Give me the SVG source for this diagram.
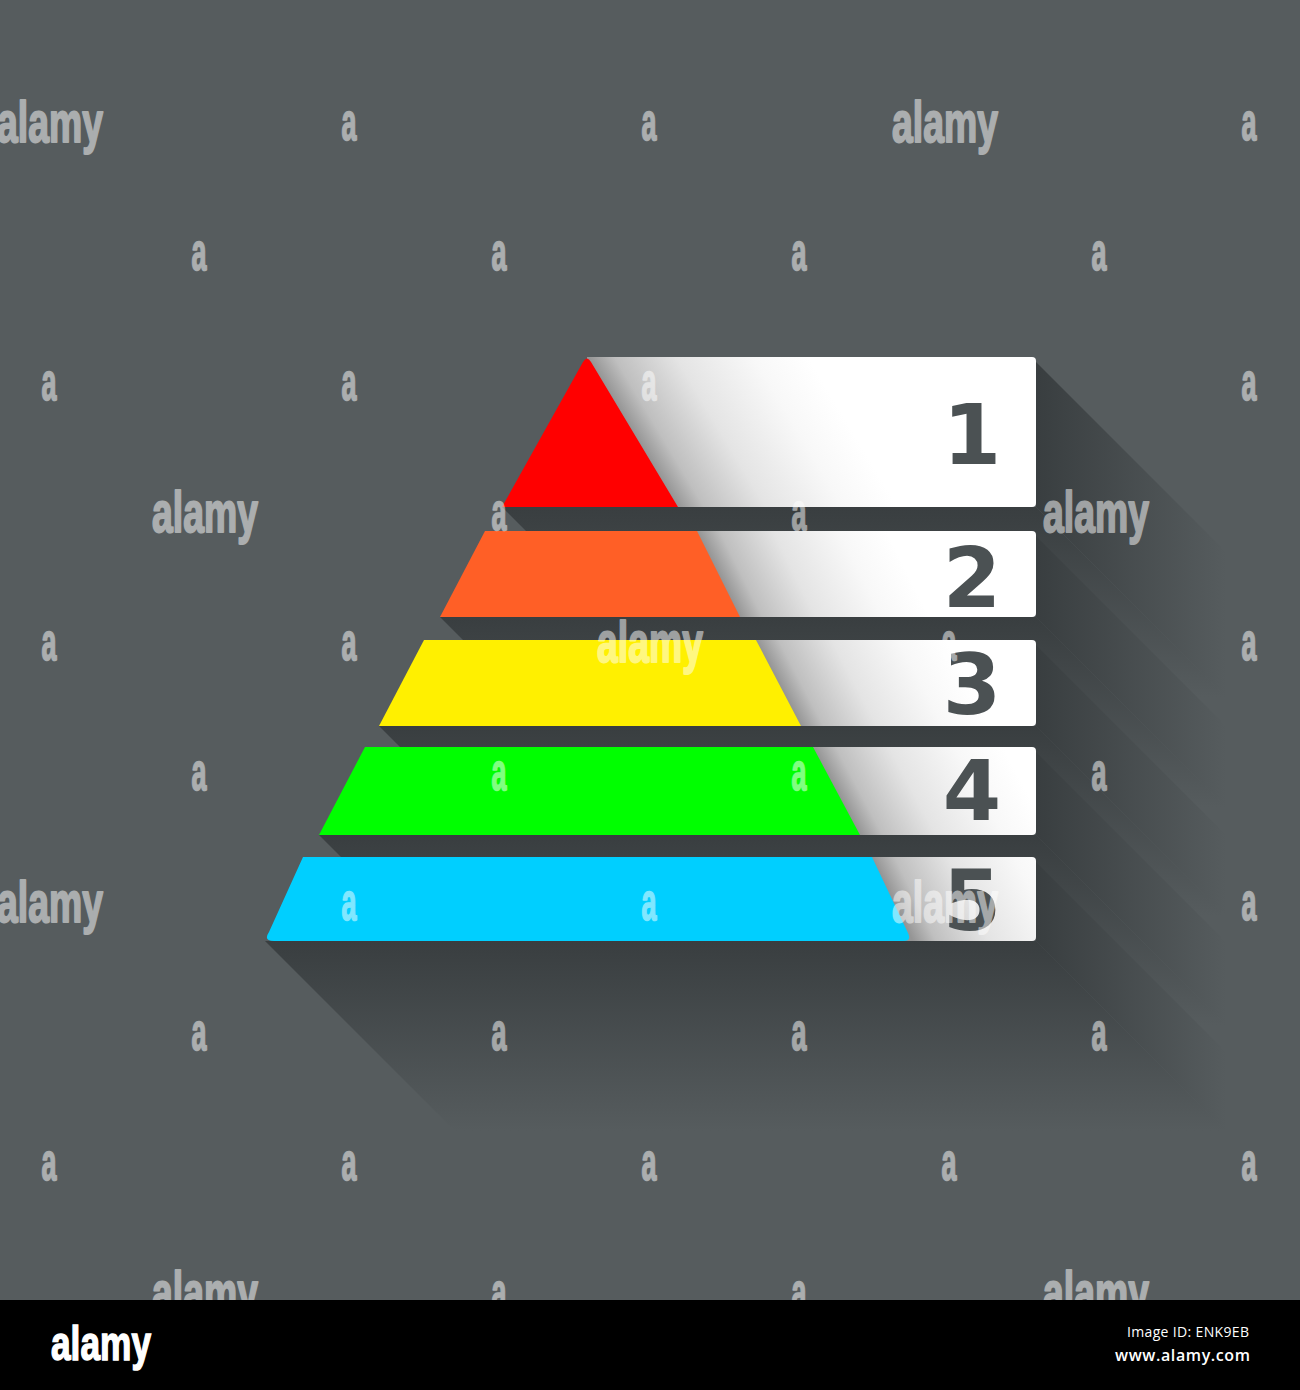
<svg xmlns="http://www.w3.org/2000/svg" width="1300" height="1390" viewBox="0 0 1300 1390">
<defs>
<style>
.num{font-family:"DejaVu Sans","Liberation Sans",sans-serif;font-weight:bold;font-size:84px;fill:#4b5153;text-anchor:middle}
.wm{font-family:"Liberation Sans",Arial,sans-serif;font-weight:bold;fill:#ffffff;stroke:#ffffff;stroke-linejoin:round}
.wa{font-size:51px;text-anchor:middle;stroke-width:1.6px}
.wl{font-size:58px;stroke-width:2px}
.foot{font-family:"Open Sans","DejaVu Sans",sans-serif;fill:#ffffff;text-anchor:end}
</style>
<linearGradient id="sr" gradientUnits="userSpaceOnUse" x1="1036" y1="0" x2="1226" y2="0"><stop offset="0" stop-color="#393e40"/><stop offset="1" stop-color="#565c5e"/></linearGradient>
<linearGradient id="sb1" gradientUnits="userSpaceOnUse" x1="0" y1="507" x2="0" y2="697"><stop offset="0" stop-color="#393e40"/><stop offset="1" stop-color="#565c5e"/></linearGradient>
<linearGradient id="sb2" gradientUnits="userSpaceOnUse" x1="0" y1="617" x2="0" y2="807"><stop offset="0" stop-color="#393e40"/><stop offset="1" stop-color="#565c5e"/></linearGradient>
<linearGradient id="sb3" gradientUnits="userSpaceOnUse" x1="0" y1="726" x2="0" y2="916"><stop offset="0" stop-color="#393e40"/><stop offset="1" stop-color="#565c5e"/></linearGradient>
<linearGradient id="sb4" gradientUnits="userSpaceOnUse" x1="0" y1="835" x2="0" y2="1025"><stop offset="0" stop-color="#393e40"/><stop offset="1" stop-color="#565c5e"/></linearGradient>
<linearGradient id="sb5" gradientUnits="userSpaceOnUse" x1="0" y1="941" x2="0" y2="1131"><stop offset="0" stop-color="#393e40"/><stop offset="1" stop-color="#565c5e"/></linearGradient>
<linearGradient id="cg1" gradientUnits="userSpaceOnUse" x1="373.8" y1="0" x2="593.8" y2="0" gradientTransform="skewX(30.96)"><stop offset="0" stop-color="#959595"/><stop offset="0.12" stop-color="#bfbfbf"/><stop offset="0.4" stop-color="#e4e4e4"/><stop offset="0.75" stop-color="#f8f8f8"/><stop offset="1" stop-color="#ffffff"/></linearGradient>
<linearGradient id="cg2" gradientUnits="userSpaceOnUse" x1="431.5" y1="0" x2="621.5" y2="0" gradientTransform="skewX(26.57)"><stop offset="0" stop-color="#959595"/><stop offset="0.12" stop-color="#bfbfbf"/><stop offset="0.4" stop-color="#e4e4e4"/><stop offset="0.75" stop-color="#f8f8f8"/><stop offset="1" stop-color="#ffffff"/></linearGradient>
<linearGradient id="cg3" gradientUnits="userSpaceOnUse" x1="421.1" y1="0" x2="611.1" y2="0" gradientTransform="skewX(27.62)"><stop offset="0" stop-color="#959595"/><stop offset="0.12" stop-color="#bfbfbf"/><stop offset="0.4" stop-color="#e4e4e4"/><stop offset="0.75" stop-color="#f8f8f8"/><stop offset="1" stop-color="#ffffff"/></linearGradient>
<linearGradient id="cg4" gradientUnits="userSpaceOnUse" x1="414.1" y1="0" x2="604.1" y2="0" gradientTransform="skewX(28.11)"><stop offset="0" stop-color="#959595"/><stop offset="0.12" stop-color="#bfbfbf"/><stop offset="0.4" stop-color="#e4e4e4"/><stop offset="0.75" stop-color="#f8f8f8"/><stop offset="1" stop-color="#ffffff"/></linearGradient>
<linearGradient id="cg5" gradientUnits="userSpaceOnUse" x1="453.7" y1="0" x2="643.7" y2="0" gradientTransform="skewX(26.02)"><stop offset="0" stop-color="#959595"/><stop offset="0.12" stop-color="#bfbfbf"/><stop offset="0.4" stop-color="#e4e4e4"/><stop offset="0.75" stop-color="#f8f8f8"/><stop offset="1" stop-color="#ffffff"/></linearGradient>
</defs>
<rect x="0" y="0" width="1300" height="1390" fill="#565c5e"/>
<g id="shadows">
<polygon points="502,507 1036,507 1226,697 692,697" fill="url(#sb1)"/>
<polygon points="1036,362 1226,552 1226,697 1036,507" fill="url(#sr)"/>
<polygon points="440,617 1036,617 1226,807 630,807" fill="url(#sb2)"/>
<polygon points="1036,536 1226,726 1226,807 1036,617" fill="url(#sr)"/>
<polygon points="379,726 1036,726 1226,916 569,916" fill="url(#sb3)"/>
<polygon points="1036,645 1226,835 1226,916 1036,726" fill="url(#sr)"/>
<polygon points="319,835 1036,835 1226,1025 509,1025" fill="url(#sb4)"/>
<polygon points="1036,752 1226,942 1226,1025 1036,835" fill="url(#sr)"/>
<polygon points="265,941 1036,941 1226,1131 455,1131" fill="url(#sb5)"/>
<polygon points="1036,862 1226,1052 1226,1131 1036,941" fill="url(#sr)"/>
</g>
<g id="tier1">
<path d="M587,357 H1032 Q1036,357 1036,361 V503 Q1036,507 1032,507 H587 Z" fill="url(#cg1)"/>
<path d="M502,507 L583,362 Q587,355 591,362 L678,507 Z" fill="#ff0000"/>
<text class="num" x="972" y="464">1</text>
</g>
<g id="tier2">
<path d="M697,531 H1032 Q1036,531 1036,535 V613 Q1036,617 1032,617 H697 Z" fill="url(#cg2)"/>
<polygon points="485,531 697,531 740,617 440,617" fill="#ff5f26"/>
<text class="num" x="972" y="607">2</text>
</g>
<g id="tier3">
<path d="M756,640 H1032 Q1036,640 1036,644 V722 Q1036,726 1032,726 H756 Z" fill="url(#cg3)"/>
<polygon points="424,640 756,640 801,726 379,726" fill="#fff000"/>
<text class="num" x="972" y="714">3</text>
</g>
<g id="tier4">
<path d="M813,747 H1032 Q1036,747 1036,751 V831 Q1036,835 1032,835 H813 Z" fill="url(#cg4)"/>
<polygon points="365,747 813,747 860,835 319,835" fill="#00ff00"/>
<text class="num" x="972" y="820">4</text>
</g>
<g id="tier5">
<path d="M872,857 H1032 Q1036,857 1036,861 V937 Q1036,941 1032,941 H872 Z" fill="url(#cg5)"/>
<path d="M303,857 H872 L908,933 Q912,941 903,941 H274 Q263,941 269,932 Z" fill="#00cfff"/>
<text class="num" x="972" y="930">5</text>
</g>
<g id="watermarks" class="wm" opacity="0.5">
<text class="wl" x="-3" y="142" textLength="106" lengthAdjust="spacingAndGlyphs">alamy</text>
<text class="wl" x="892" y="142" textLength="106" lengthAdjust="spacingAndGlyphs">alamy</text>
<text class="wa" x="349" y="140" textLength="15" lengthAdjust="spacingAndGlyphs">a</text>
<text class="wa" x="649" y="140" textLength="15" lengthAdjust="spacingAndGlyphs">a</text>
<text class="wa" x="1249" y="140" textLength="15" lengthAdjust="spacingAndGlyphs">a</text>
<text class="wa" x="199" y="270" textLength="15" lengthAdjust="spacingAndGlyphs">a</text>
<text class="wa" x="499" y="270" textLength="15" lengthAdjust="spacingAndGlyphs">a</text>
<text class="wa" x="799" y="270" textLength="15" lengthAdjust="spacingAndGlyphs">a</text>
<text class="wa" x="1099" y="270" textLength="15" lengthAdjust="spacingAndGlyphs">a</text>
<text class="wa" x="49" y="400" textLength="15" lengthAdjust="spacingAndGlyphs">a</text>
<text class="wa" x="349" y="400" textLength="15" lengthAdjust="spacingAndGlyphs">a</text>
<text class="wa" x="649" y="400" textLength="15" lengthAdjust="spacingAndGlyphs">a</text>
<text class="wa" x="949" y="400" textLength="15" lengthAdjust="spacingAndGlyphs">a</text>
<text class="wa" x="1249" y="400" textLength="15" lengthAdjust="spacingAndGlyphs">a</text>
<text class="wl" x="152" y="532" textLength="106" lengthAdjust="spacingAndGlyphs">alamy</text>
<text class="wl" x="1043" y="532" textLength="106" lengthAdjust="spacingAndGlyphs">alamy</text>
<text class="wa" x="499" y="530" textLength="15" lengthAdjust="spacingAndGlyphs">a</text>
<text class="wa" x="799" y="530" textLength="15" lengthAdjust="spacingAndGlyphs">a</text>
<text class="wa" x="49" y="660" textLength="15" lengthAdjust="spacingAndGlyphs">a</text>
<text class="wa" x="349" y="660" textLength="15" lengthAdjust="spacingAndGlyphs">a</text>
<text class="wl" x="597" y="662" textLength="106" lengthAdjust="spacingAndGlyphs">alamy</text>
<text class="wa" x="949" y="660" textLength="15" lengthAdjust="spacingAndGlyphs">a</text>
<text class="wa" x="1249" y="660" textLength="15" lengthAdjust="spacingAndGlyphs">a</text>
<text class="wa" x="199" y="790" textLength="15" lengthAdjust="spacingAndGlyphs">a</text>
<text class="wa" x="499" y="790" textLength="15" lengthAdjust="spacingAndGlyphs">a</text>
<text class="wa" x="799" y="790" textLength="15" lengthAdjust="spacingAndGlyphs">a</text>
<text class="wa" x="1099" y="790" textLength="15" lengthAdjust="spacingAndGlyphs">a</text>
<text class="wl" x="-3" y="922" textLength="106" lengthAdjust="spacingAndGlyphs">alamy</text>
<text class="wl" x="892" y="922" textLength="106" lengthAdjust="spacingAndGlyphs">alamy</text>
<text class="wa" x="349" y="920" textLength="15" lengthAdjust="spacingAndGlyphs">a</text>
<text class="wa" x="649" y="920" textLength="15" lengthAdjust="spacingAndGlyphs">a</text>
<text class="wa" x="1249" y="920" textLength="15" lengthAdjust="spacingAndGlyphs">a</text>
<text class="wa" x="199" y="1050" textLength="15" lengthAdjust="spacingAndGlyphs">a</text>
<text class="wa" x="499" y="1050" textLength="15" lengthAdjust="spacingAndGlyphs">a</text>
<text class="wa" x="799" y="1050" textLength="15" lengthAdjust="spacingAndGlyphs">a</text>
<text class="wa" x="1099" y="1050" textLength="15" lengthAdjust="spacingAndGlyphs">a</text>
<text class="wa" x="49" y="1180" textLength="15" lengthAdjust="spacingAndGlyphs">a</text>
<text class="wa" x="349" y="1180" textLength="15" lengthAdjust="spacingAndGlyphs">a</text>
<text class="wa" x="649" y="1180" textLength="15" lengthAdjust="spacingAndGlyphs">a</text>
<text class="wa" x="949" y="1180" textLength="15" lengthAdjust="spacingAndGlyphs">a</text>
<text class="wa" x="1249" y="1180" textLength="15" lengthAdjust="spacingAndGlyphs">a</text>
<text class="wl" x="152" y="1312" textLength="106" lengthAdjust="spacingAndGlyphs">alamy</text>
<text class="wl" x="1043" y="1312" textLength="106" lengthAdjust="spacingAndGlyphs">alamy</text>
<text class="wa" x="499" y="1310" textLength="15" lengthAdjust="spacingAndGlyphs">a</text>
<text class="wa" x="799" y="1310" textLength="15" lengthAdjust="spacingAndGlyphs">a</text>
</g>
<g id="footer">
<rect x="0" y="1300" width="1300" height="90" fill="#000000"/>
<text x="51" y="1360" font-family="Liberation Sans, Arial, sans-serif" font-weight="bold" font-size="48" fill="#ffffff" stroke="#ffffff" stroke-width="1.5" textLength="100" lengthAdjust="spacingAndGlyphs">alamy</text>
<text class="foot" x="1249" y="1337" font-size="14" textLength="122">Image ID: ENK9EB</text>
<text class="foot" x="1250" y="1361" font-size="16" font-weight="600" textLength="135">www.alamy.com</text>
</g>
</svg>
